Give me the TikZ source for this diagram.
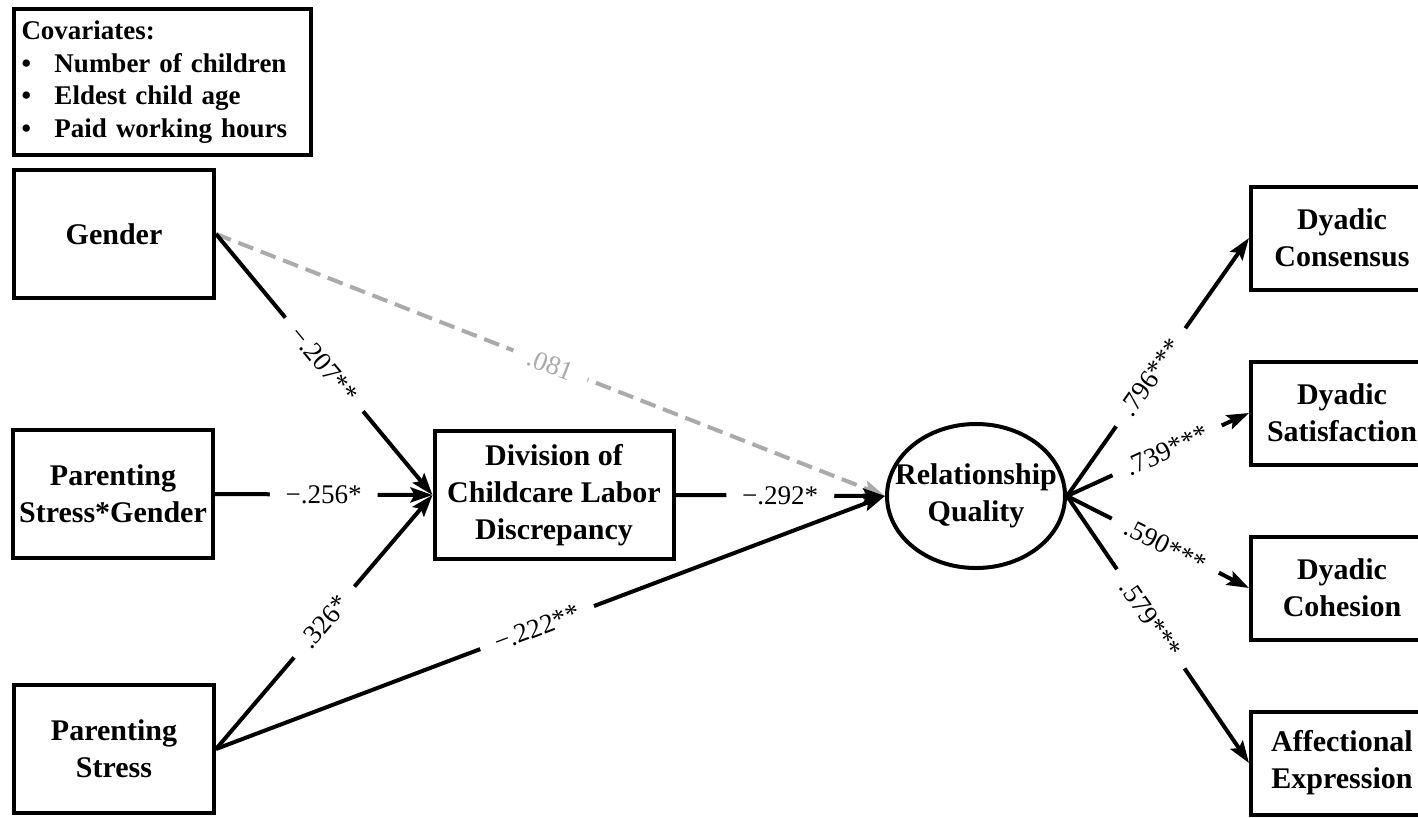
\documentclass[tikz,border=0pt]{standalone}
\usepackage{fontspec}
\setmainfont{Liberation Serif}
\usepackage{tikz}
\usetikzlibrary{positioning,calc}
\usetikzlibrary{arrows.meta}
\usetikzlibrary{shapes.geometric}

\definecolor{nsgray}{RGB}{170,170,170}

\tikzset{
  varbox/.style={draw, line width=4pt, align=center, minimum width=200pt, minimum height=128pt,
    font=\bfseries\fontsize{30}{37}\selectfont},
  outbox/.style={varbox, minimum width=182pt, minimum height=103pt},
  covbox/.style={draw, line width=4pt, align=left, text width=281pt, inner xsep=8pt, minimum height=146pt,
    font=\bfseries\fontsize{27}{32.5}\selectfont},
  effect/.style={-{Stealth[length=22pt,width=15pt,inset=4pt]}, line width=4pt},
  coef/.style={fill=white, sloped, inner xsep=16pt, inner ysep=1pt, font=\fontsize{27}{29}\selectfont},
}

\begin{document}
\begin{tikzpicture}[x=1pt, y=-1pt]
  % \draw[step=100, gray!20!white, very thin] (0,0) grid (1418,817);
  \useasboundingbox (0,0) rectangle (1418,817);
  \clip (0,0) rectangle (1418,817);
  \fill[white] (0,0) rectangle (1418,817);

  \node[covbox] at (162,82) (cov) {Covariates:\\
    \makebox[33pt][l]{•}Number of children\\
    \makebox[33pt][l]{•}Eldest child age\\
    \makebox[33pt][l]{•}Paid working hours};

  \node[varbox] at (114,234) (gender) {Gender};
  \node[varbox] at (113,494) (psg)    {Parenting\\Stress*Gender};
  \node[varbox] at (114,749) (ps)     {Parenting\\Stress};
  \node[varbox, minimum width=239pt] at (554,495) (div) {Division of\\Childcare Labor\\Discrepancy};

  \node[draw, ellipse, line width=4pt, minimum width=178pt, minimum height=144pt, inner sep=0pt] at (976,496) (rq) {};
  \node[varbox, draw=none] at (rq) (rqtext) {Relationship\\Quality};

  \node[outbox] at (1342,238) (cons)      {Dyadic\\Consensus};
  \node[outbox] (sat) [below=68pt of cons] {Dyadic\\Satisfaction};
  \node[outbox] (coh) [below=68pt of sat]  {Dyadic\\Cohesion};
  \node[outbox] (aff) [below=68pt of coh]  {Affectional\\Expression};

  \draw [effect, nsgray, dash pattern=on 16pt off 8pt] (gender.east) -- node[coef, text=nsgray] {.081} (rq.west);
  \draw [effect] (gender.east) -- node[coef] {−.207**} (div.west);
  \draw [effect] (psg.east) -- node[coef] {−.256*} (div.west);
  \draw [effect] (ps.east) -- node[coef] {.326*} (div.west);
  \draw [effect] (ps.east) -- node[coef, pos=0.48] {−.222**} (rq.west);
  \draw [effect] (div.east) -- node[coef] {−.292*} (rq.west);

  \draw [effect] (rq.east) -- node[coef, pos=0.46] {.796***} (cons.west);
  \draw [effect] (rq.east) -- node[coef, pos=0.55] {.739***} (sat.west);
  \draw [effect] (rq.east) -- node[coef, pos=0.54] {.590***} (coh.west);
  \draw [effect] (rq.east) -- node[coef, pos=0.46] {.579***} (aff.west);

\end{tikzpicture}
\end{document}
